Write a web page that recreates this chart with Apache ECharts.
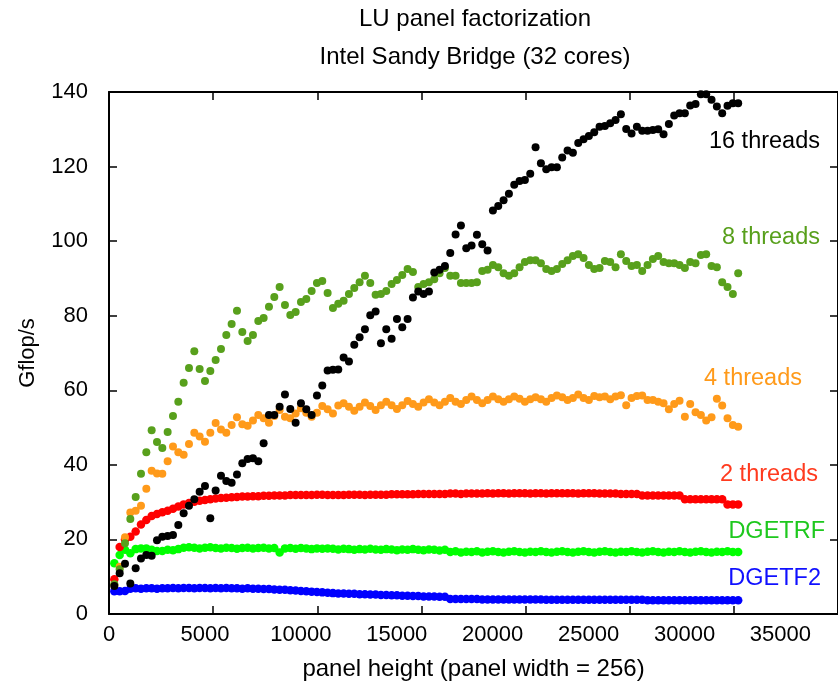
<!DOCTYPE html>
<html>
<head>
<meta charset="utf-8">
<script src="https://cdn.jsdelivr.net/npm/echarts@6/dist/echarts.min.js"></script>
<style>html,body{margin:0;padding:0;background:#fff}#c{width:838px;height:688px}</style>
</head>
<body>
<div id="c"></div>
<script>
// panel heights (x values)
var heights = [256,512,768,1024,1280,1536,1792,2048,2304,2560,
2816,3072,3328,3584,3840,4096,4352,4608,4864,5120,
5376,5632,5888,6144,6400,6656,6912,7168,7424,7680,
7936,8192,8448,8704,8960,9216,9472,9728,9984,10240,
10496,10752,11008,11264,11520,11776,12032,12288,12544,12800,
13056,13312,13568,13824,14080,14336,14592,14848,15104,15360,
15616,15872,16128,16384,16640,16896,17152,17408,17664,17920,
18176,18432,18688,18944,19200,19456,19712,19968,20224,20480,
20736,20992,21248,21504,21760,22016,22272,22528,22784,23040,
23296,23552,23808,24064,24320,24576,24832,25088,25344,25600,
25856,26112,26368,26624,26880,27136,27392,27648,27904,28160,
28416,28672,28928,29184,29440,29696,29952,30208];

var threads16 = [7.5,10.9,13.5,8.2,12.3,14.9,15.8,15.6,19.8,20.7,
20.9,21.2,23.9,27,29,30.8,32.8,34.3,25.7,33.1,
37.1,35.7,35.2,37.4,40.4,41.6,41.8,41,45.8,53.4,
53.4,55.6,58.9,55,51.3,56.5,54.9,53.4,58.6,61.3,
65.3,65.5,65.6,68.8,67.7,72.2,74.2,76.4,80.1,81.1,
72.6,76.4,73.8,79.1,76.9,79.1,84.9,86.5,85.8,86.5,
91.6,92.3,93.3,96.8,101.8,104.2,98.1,98.8,101.7,99.2,
97.5,108.2,109.4,111,112.7,115.1,116.1,116.4,118.1,125.2,
120.9,119.3,119.8,119.8,122.4,124.3,123.7,126.3,127.3,128.2,
129.2,130.7,130.9,131.6,132.5,134,130.1,128.9,130.7,129.6,
129.6,129.8,130,128.7,131.4,133.7,134.3,134.3,136.4,136.8,
139.4,139.4,137.9,136.1,134.3,136.3,137,137];

var threads8 = [8,12,19,25.5,31.4,37.6,43.4,49.3,46.1,44.5,
48.8,53.1,56.9,62,66,70.5,65.7,62.5,65.2,68.1,
71.1,74.8,77.8,81.3,75.6,73.2,74.8,78.6,79.4,82.4,
85,87.7,82.9,80.2,81,83.7,84.5,86.6,88.8,89.3,
86.1,82.1,83.2,84,85.8,87.4,89,90.7,88.8,85.6,
85.8,86.6,88.5,89.6,90.9,92.5,91.7,87.7,88.5,89,
89.8,91.4,92.8,90.7,90.7,88.8,88.8,88.8,89,92,
92.3,93.6,93,91.4,90.7,91.4,93,94.4,94.9,94.9,
94.1,92.5,92,92.5,93.9,94.9,96,96.5,95.5,93.6,
92.5,92.8,94.7,94.4,93,96.5,94.7,93.3,93.6,92,
93.6,95.2,96,94.4,94.1,94.1,93.6,92.8,94.4,94.1,
96.3,96.5,93.3,93,89,87.7,85.8,91.4];

var threads4 = [7.8,12.7,20.6,27.2,27.7,29,33.6,38.4,37.7,37.6,
41,44.9,43.4,42.7,45.6,48.6,47.6,46.2,48.6,51.2,
49.5,48.6,50.7,52.8,50.9,50.5,51.9,53.4,52.5,51.3,
53.1,54.7,52.9,52.5,53.8,55.2,54,52.9,54,55.8,
54.9,53.8,55.9,56.5,55.6,54.5,55.6,56.7,55.8,54.7,
56,56.9,56,55,56,57.1,56.3,55.6,56.7,57.6,
56.7,56,56.9,57.9,56.9,56.3,57.4,58.3,57.4,56.5,
57.4,58.3,57.6,56.9,57.6,58.3,57.7,56.9,57.6,58.1,
57.6,56.9,57.9,58.6,58.1,57.4,57.9,58.9,57.9,57.4,
58.5,58.1,58.3,57.6,58.3,58.7,56,57.9,58.5,58.6,
57.4,57.4,56.9,56.5,54.9,56.3,57.2,52.9,56.3,54.1,
53.4,51.9,52.8,57.7,55.9,52.5,50.7,50.2];

var threads2 = [9.3,18,20,20.7,22.1,24,25.2,26.3,26.8,27.3,
27.7,28.2,28.8,29.4,29.8,30.1,30.4,30.6,30.8,31,
31.1,31.2,31.3,31.4,31.5,31.5,31.6,31.6,31.7,31.7,
31.8,31.8,31.8,31.9,31.9,31.9,31.9,31.9,32,32,
31.9,31.9,31.9,31.9,32,32,32,31.9,32,32,
32,32,32.1,32.1,32.1,32.1,32.1,32.2,32.2,32.2,
32.2,32.2,32.2,32.3,32.3,32.2,32.3,32.3,32.3,32.3,
32.4,32.3,32.4,32.4,32.3,32.4,32.4,32.4,32.3,32.4,
32.4,32.3,32.4,32.4,32.4,32.4,32.4,32.3,32.4,32.4,
32.4,32.3,32.3,32.3,32.3,32.2,32.2,32.2,32.2,31.8,
31.8,31.8,31.8,31.8,31.8,31.8,31.8,30.8,30.8,30.8,
30.8,30.8,30.8,30.8,30.8,29.4,29.4,29.4];

var dgetrf = [13.6,15.8,17.2,16.3,17.4,17.6,17.6,17.2,16.9,16.9,
17.2,17.1,17.4,17.8,17.9,17.8,17.6,17.8,17.9,17.7,
17.6,17.8,17.7,17.5,17.7,17.8,17.6,17.7,17.8,17.6,
17.7,16.5,17.6,17.7,17.5,17.7,17.6,17.4,17.6,17.5,
17.6,17.5,17.3,17.5,17.4,17.2,17.4,17.3,17.5,17.3,
17.2,17.4,17.3,17.1,17.3,17.2,17.4,17.2,17.1,17.3,
17.2,17.0,17.2,16.6,16.8,16.5,16.7,16.6,16.8,16.5,
16.7,16.8,16.6,16.5,16.7,16.8,16.6,16.5,16.7,16.6,
16.8,16.6,16.5,16.7,16.8,16.6,16.5,16.7,16.8,16.6,
16.5,16.7,16.8,16.6,16.5,16.7,16.6,16.8,16.6,16.5,
16.7,16.8,16.6,16.5,16.7,16.6,16.8,16.6,16.5,16.7,
16.8,16.6,16.5,16.7,16.6,16.8,16.6,16.6];

var dgetf2 = [6.1,6.1,6.2,6.8,6.9,6.8,6.9,6.9,6.8,6.9,
6.9,7.0,6.9,7.0,7.0,6.9,7.0,7.0,6.9,7.0,
6.9,7.0,6.9,6.9,6.8,6.9,6.8,6.8,6.7,6.7,
6.6,6.5,6.5,6.4,6.3,6.2,6.1,6.0,5.9,5.8,
5.7,5.6,5.5,5.5,5.4,5.4,5.3,5.3,5.2,5.2,
5.1,5.1,5.0,5.0,4.9,4.9,4.8,4.8,4.7,4.7,
4.7,4.6,4.6,4.0,4.0,4.0,4.0,4.0,4.0,3.9,
3.9,3.9,3.9,3.9,3.9,3.9,3.9,3.9,3.9,3.9,
3.9,3.8,3.8,3.8,3.8,3.8,3.8,3.8,3.8,3.8,
3.8,3.8,3.8,3.8,3.8,3.8,3.8,3.8,3.8,3.8,
3.7,3.7,3.7,3.7,3.7,3.7,3.7,3.7,3.7,3.7,
3.7,3.7,3.7,3.7,3.7,3.7,3.7,3.7];

var xTickLabels = [0,5000,10000,15000,20000,25000,30000,35000];
var yTicks = [0,20,40,60,80,100,120,140];

var seriesDefs = [
  {name:'DGETF2', data:dgetf2, color:'#0000ff', label:'#1010ff', size:8.5},
  {name:'DGETRF', data:dgetrf, color:'#00ff00', label:'#1ec81e', size:8.5},
  {name:'2 threads', data:threads2, color:'#ff0000', label:'#ff3a1e', size:8.5},
  {name:'4 threads', data:threads4, color:'#ff9a1a', label:'#ff9a1a', size:8},
  {name:'8 threads', data:threads8, color:'#58a01c', label:'#58a01c', size:8},
  {name:'16 threads', data:threads16, color:'#000000', label:'#000000', size:8}
];
var labelPos = {'16 threads':[820,142],'8 threads':[820,238],'4 threads':[802,379],
  '2 threads':[818,475],'DGETRF':[825,532],'DGETF2':[821,579]};

var FONT = '"Liberation Sans", Arial, Helvetica, sans-serif';

var chart = echarts.init(document.getElementById('c'), null, {renderer:'canvas'});
var series = seriesDefs.map(function(s){
  return {
    name:s.name, type:'scatter', xAxisIndex:0, yAxisIndex:0,
    symbol:'circle', symbolSize:s.size,
    itemStyle:{color:s.color, opacity:1},
    data: heights.map(function(h,i){return [h, s.data[i]];}),
    animation:false
  };
});

var graphics = [
  {type:'text', x:475, y:19, style:{text:'LU panel factorization', x:0, y:0, fill:'#000', font:'24px '+FONT, textAlign:'center', textVerticalAlign:'middle', align:'center', verticalAlign:'middle'}},
  {type:'text', x:475, y:57, style:{text:'Intel Sandy Bridge (32 cores)', x:0, y:0, fill:'#000', font:'24px '+FONT, textAlign:'center', textVerticalAlign:'middle', align:'center', verticalAlign:'middle'}}
];
seriesDefs.forEach(function(s){
  var p = labelPos[s.name];
  graphics.push({type:'text', x:p[0], y:p[1], style:{text:s.name, x:0, y:0, fill:s.label, font:'23.5px '+FONT, textAlign:'right', textVerticalAlign:'middle', align:'right', verticalAlign:'middle'}});
});

var axisLineStyle = {color:'#000', width:2};
chart.setOption({
  animation:false,
  backgroundColor:'#fff',
  grid:{left:109, top:92, width:736, height:522, containLabel:false},
  xAxis:[
    {type:'value', min:0, max:35000, interval:5000, position:'bottom',
     axisLine:{show:true, onZero:false, lineStyle:axisLineStyle},
     axisTick:{show:true, inside:true, length:8, lineStyle:{color:'#000', width:1.5}},
     axisLabel:{show:false}, splitLine:{show:false}},
    {type:'value', min:0, max:38000, interval:5000, position:'bottom',
     axisLine:{show:false, onZero:false}, axisTick:{show:false},
     axisLabel:{show:true, showMaxLabel:false, margin:10, color:'#000', fontSize:22, fontFamily:FONT,
       formatter:function(v){return xTickLabels.indexOf(v)>=0 ? String(v) : '';}},
     splitLine:{show:false},
     name:'panel height (panel width = 256)', nameLocation:'middle', nameGap:43,
     nameTextStyle:{color:'#000', fontSize:24, fontFamily:FONT}},
    {type:'value', min:0, max:35000, interval:5000, position:'top',
     axisLine:{show:true, onZero:false, lineStyle:axisLineStyle},
     axisTick:{show:true, inside:true, length:8, lineStyle:{color:'#000', width:1.5}},
     axisLabel:{show:false}, splitLine:{show:false}}
  ],
  yAxis:[
    {type:'value', min:0, max:140, interval:20, position:'left',
     axisLine:{show:true, onZero:false, lineStyle:axisLineStyle},
     axisTick:{show:true, inside:true, length:8, lineStyle:{color:'#000', width:1.5}},
     axisLabel:{show:true, margin:21, color:'#000', fontSize:22, fontFamily:FONT,
       formatter:function(v){return yTicks.indexOf(v)>=0 ? String(v) : '';}},
     splitLine:{show:false},
     name:'Gflop/s', nameLocation:'middle', nameGap:70, nameRotate:90,
     nameTextStyle:{color:'#000', fontSize:22, fontFamily:FONT}},
    {type:'value', min:0, max:140, interval:20, position:'right',
     axisLine:{show:true, onZero:false, lineStyle:axisLineStyle},
     axisTick:{show:true, inside:true, length:8, lineStyle:{color:'#000', width:1.5}},
     axisLabel:{show:false}, splitLine:{show:false}}
  ],
  series: series,
  graphic: graphics
});
</script>
</body>
</html>
